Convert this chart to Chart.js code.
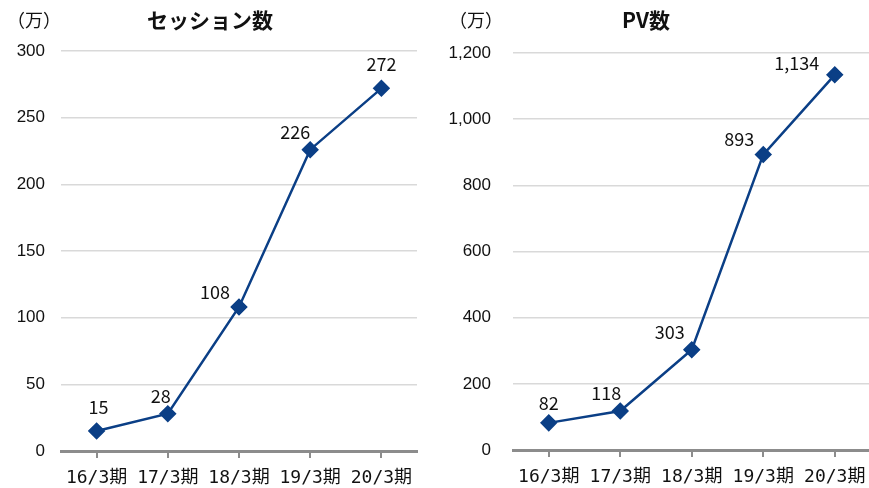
<!DOCTYPE html>
<html>
<head>
<meta charset="utf-8">
<script src="https://cdn.jsdelivr.net/npm/chart.js@4"></script>
<style>
  html, body { margin: 0; padding: 0; background: #fff; overflow: hidden; width: 869px; height: 488px; }
  .box { position: absolute; top: 0; height: 488px; }
  .txt { position: absolute; font-family: "Noto Sans CJK JP", sans-serif; color: #111; white-space: nowrap; }
  .unit { font-size: 18px; top: 6px; }
  .ttl { font-size: 21px; font-weight: bold; top: 4px; }
</style>
</head>
<body>
<div class="box" style="left:0;width:430px"><canvas id="sessionChart"></canvas></div>
<div class="box" style="left:435px;width:445px"><canvas id="pvChart"></canvas></div>
<div class="txt unit" style="left:7px">（万）</div>
<div class="txt ttl" style="left:147px">セッション数</div>
<div class="txt unit" style="left:449px">（万）</div>
<div class="txt ttl" style="left:622px">PV数</div>
<script>
  // 期
  const categories = ["16/3期", "17/3期", "18/3期", "19/3期", "20/3期"];
  // セッション数（万）
  const sessions = [15, 28, 108, 226, 272];
  // PV数（万）
  const pageViews = [82, 118, 303, 893, 1134];
  const sessionTicks = { max: 300, step: 50 };
  const pvTicks = { max: 1200, step: 200 };

  const lineColor = "#0b3f86";

  // ラベル位置（点からのずれ）
  const sessionLabelOffsets = [[2, -24], [-7, -18], [-24, -15], [-15, -18], [0, -24]];
  const pvLabelOffsets = [[0, -20], [-14, -18], [-22, -18], [-24, -15], [-38, -12]];

  const valueLabels = {
    id: "valueLabels",
    afterDatasetsDraw(chart, args, opts) {
      const ctx = chart.ctx;
      const meta = chart.getDatasetMeta(0);
      const data = chart.data.datasets[0].data;
      ctx.save();
      ctx.font = "18px 'Noto Sans CJK JP', sans-serif";
      ctx.fillStyle = "#111";
      ctx.textAlign = "center";
      ctx.textBaseline = "middle";
      meta.data.forEach((pt, i) => {
        const off = opts.offsets[i];
        ctx.fillText(data[i].toLocaleString("en-US"), pt.x + off[0], pt.y + off[1]);
      });
      ctx.restore();
    }
  };

  function makeChart(id, values, ticks, area, offsets) {
    return new Chart(document.getElementById(id), {
      type: "line",
      data: {
        labels: categories,
        datasets: [{
          data: values,
          borderColor: lineColor,
          backgroundColor: lineColor,
          borderWidth: 2.5,
          pointStyle: "rectRot",
          pointRadius: 7,
          pointHoverRadius: 7,
          tension: 0,
        }],
      },
      options: {
        responsive: true,
        maintainAspectRatio: false,
        animation: false,
        locale: "en-US",
        layout: { padding: { top: area.top, right: area.right, left: 0, bottom: 0 } },
        plugins: {
          legend: { display: false },
          tooltip: { enabled: false },
          valueLabels: { offsets: offsets },
        },
        scales: {
          x: {
            offset: true,
            afterFit: (s) => { s.height = area.xHeight; },
            grid: { drawOnChartArea: false, color: "#8c8c8c", lineWidth: 2, tickLength: 7 },
            border: { color: "#8c8c8c", width: 3 },
            ticks: {
              color: "#111",
              padding: 10,
              maxRotation: 0,
              autoSkip: false,
              font: { family: "'DejaVu Sans Mono', 'Noto Sans CJK JP', monospace", size: 18 },
            },
          },
          y: {
            min: 0,
            max: ticks.max,
            afterFit: (s) => { s.width = area.left; },
            grid: { color: "#d9d9d9", lineWidth: 1.5, drawTicks: false },
            border: { display: false },
            ticks: {
              stepSize: ticks.step,
              color: "#111",
              padding: area.tickPad,
              font: { family: "'Liberation Sans', Arial, sans-serif", size: 17 },
            },
          },
        },
      },
      plugins: [valueLabels],
    });
  }

  makeChart("sessionChart", sessions, sessionTicks,
    { top: 51, right: 13, left: 61, xHeight: 37, tickPad: 16 }, sessionLabelOffsets);
  makeChart("pvChart", pageViews, pvTicks,
    { top: 53, right: 0, left: 78, xHeight: 38, tickPad: 22 }, pvLabelOffsets);
</script>
</body>
</html>
